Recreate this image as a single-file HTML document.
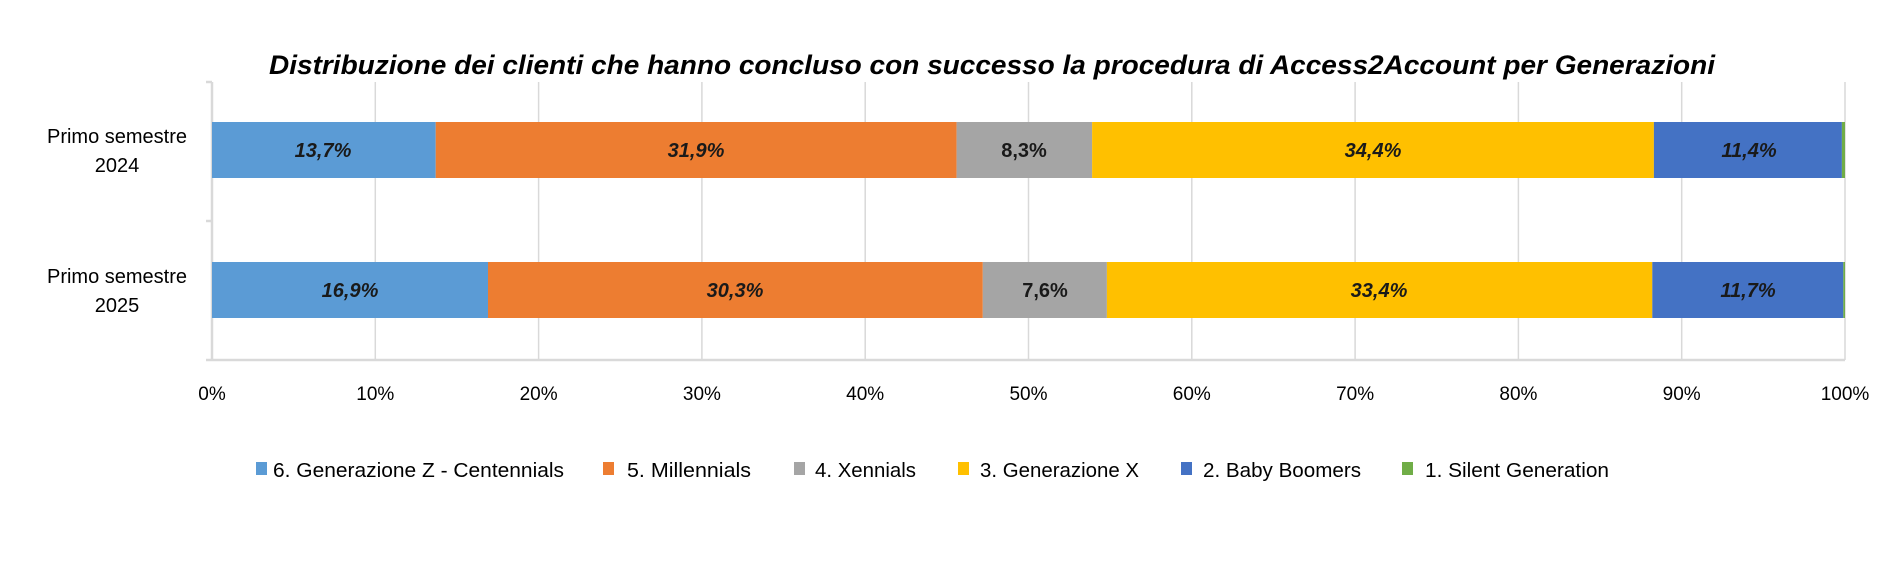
<!DOCTYPE html>
<html><head><meta charset="utf-8"><style>
html,body{margin:0;padding:0;background:#fff;}
svg{display:block;font-family:"Liberation Sans",Calibri,sans-serif;}
</style></head><body>
<svg width="1900" height="571" viewBox="0 0 1900 571" xmlns="http://www.w3.org/2000/svg">
<rect width="1900" height="571" fill="#fff"/>
<text x="269" y="74" textLength="1446" lengthAdjust="spacingAndGlyphs" font-size="27" font-weight="bold" font-style="italic" fill="#000">Distribuzione dei clienti che hanno concluso con successo la procedura di Access2Account per Generazioni</text>
<g stroke="#d9d9d9" stroke-width="1.5">
<line x1="375.3" y1="82" x2="375.3" y2="360"/><line x1="538.6" y1="82" x2="538.6" y2="360"/>
<line x1="701.9" y1="82" x2="701.9" y2="360"/><line x1="865.2" y1="82" x2="865.2" y2="360"/>
<line x1="1028.5" y1="82" x2="1028.5" y2="360"/><line x1="1191.8" y1="82" x2="1191.8" y2="360"/>
<line x1="1355.1" y1="82" x2="1355.1" y2="360"/><line x1="1518.4" y1="82" x2="1518.4" y2="360"/>
<line x1="1681.7" y1="82" x2="1681.7" y2="360"/><line x1="1845" y1="82" x2="1845" y2="360"/>
</g>
<g stroke="#d9d9d9" stroke-width="2.5">
<line x1="212" y1="82" x2="212" y2="360"/>
<line x1="206" y1="360" x2="1845" y2="360"/>
<line x1="206" y1="82" x2="212" y2="82"/><line x1="206" y1="221" x2="212" y2="221"/>
</g>
<g>
<rect x="212" y="122" width="223.7" height="56" fill="#5b9bd5"/>
<rect x="435.7" y="122" width="520.9" height="56" fill="#ed7d31"/>
<rect x="956.6" y="122" width="135.5" height="56" fill="#a5a5a5"/>
<rect x="1092.1" y="122" width="561.8" height="56" fill="#ffc000"/>
<rect x="1653.9" y="122" width="188" height="56" fill="#4472c4"/>
<rect x="1841.9" y="122" width="3.1" height="56" fill="#70ad47"/>
<rect x="212" y="262" width="276" height="56" fill="#5b9bd5"/>
<rect x="488" y="262" width="494.8" height="56" fill="#ed7d31"/>
<rect x="982.8" y="262" width="124.1" height="56" fill="#a5a5a5"/>
<rect x="1106.9" y="262" width="545.4" height="56" fill="#ffc000"/>
<rect x="1652.3" y="262" width="191" height="56" fill="#4472c4"/>
<rect x="1843.3" y="262" width="1.7" height="56" fill="#70ad47"/>
</g>
<g font-size="20" font-weight="bold" font-style="italic" fill="#1a1a1a" text-anchor="middle">
<text x="323" y="157">13,7%</text><text x="696" y="157">31,9%</text>
<text x="1024" y="157" font-style="normal">8,3%</text><text x="1373" y="157">34,4%</text><text x="1749" y="157">11,4%</text>
<text x="350" y="297">16,9%</text><text x="735" y="297">30,3%</text>
<text x="1045" y="297" font-style="normal">7,6%</text><text x="1379" y="297">33,4%</text><text x="1748" y="297">11,7%</text>
</g>
<g font-size="20" fill="#000" text-anchor="middle">
<text x="117" y="143">Primo semestre</text><text x="117" y="172">2024</text>
<text x="117" y="283">Primo semestre</text><text x="117" y="312">2025</text>
</g>
<g font-size="19" fill="#000" text-anchor="middle">
<text x="212" y="400">0%</text><text x="375.3" y="400">10%</text><text x="538.6" y="400">20%</text>
<text x="701.9" y="400">30%</text><text x="865.2" y="400">40%</text><text x="1028.5" y="400">50%</text>
<text x="1191.8" y="400">60%</text><text x="1355.1" y="400">70%</text><text x="1518.4" y="400">80%</text>
<text x="1681.7" y="400">90%</text><text x="1845" y="400">100%</text>
</g>
<g font-size="20" fill="#000">
<rect x="256" y="462" width="11" height="13" fill="#5b9bd5"/><text x="273" y="477" textLength="291" lengthAdjust="spacingAndGlyphs">6. Generazione Z - Centennials</text>
<rect x="603" y="462" width="11" height="13" fill="#ed7d31"/><text x="627" y="477" textLength="124" lengthAdjust="spacingAndGlyphs">5. Millennials</text>
<rect x="794" y="462" width="11" height="13" fill="#a5a5a5"/><text x="815" y="477" textLength="101" lengthAdjust="spacingAndGlyphs">4. Xennials</text>
<rect x="958" y="462" width="11" height="13" fill="#ffc000"/><text x="980" y="477" textLength="159" lengthAdjust="spacingAndGlyphs">3. Generazione X</text>
<rect x="1181" y="462" width="11" height="13" fill="#4472c4"/><text x="1203" y="477" textLength="158" lengthAdjust="spacingAndGlyphs">2. Baby Boomers</text>
<rect x="1402" y="462" width="11" height="13" fill="#70ad47"/><text x="1425" y="477" textLength="184" lengthAdjust="spacingAndGlyphs">1. Silent Generation</text>
</g>
</svg>
</body></html>
